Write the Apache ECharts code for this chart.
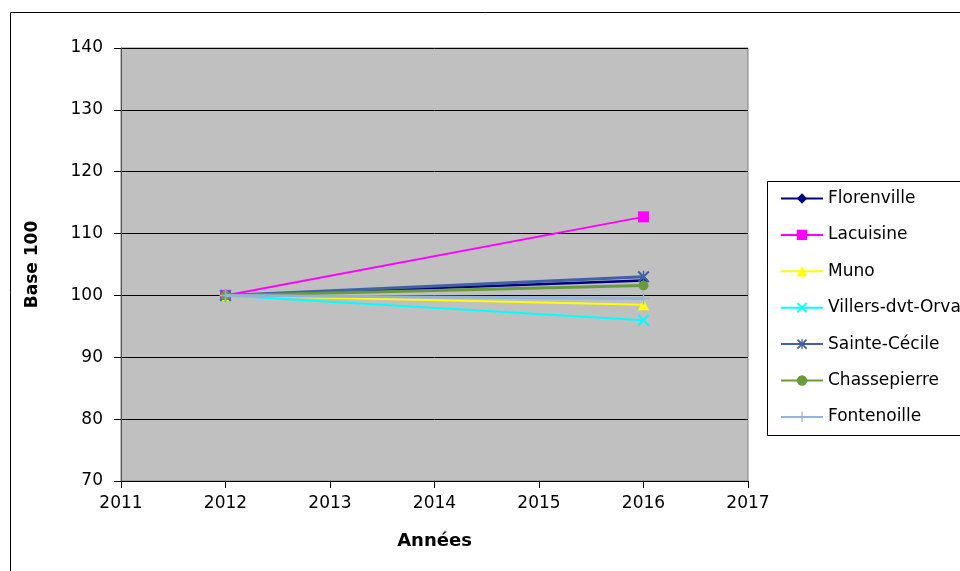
<!DOCTYPE html>
<html>
<head>
<meta charset="utf-8">
<script src="https://cdn.jsdelivr.net/npm/echarts@6/dist/echarts.min.js"></script>
<style>html,body{margin:0;padding:0;background:#fff}#c{width:960px;height:571px}</style>
</head>
<body>
<div id="c"></div>
<script>
const years = [2012, 2016];
const seriesNames = ['Florenville','Lacuisine','Muno','Villers-dvt-Orva','Sainte-Cécile','Chassepierre','Fontenoille'];
const florenville = [100, 102.4];
const lacuisine = [100, 112.7];
const muno = [100, 98.5];
const villers = [100, 96.0];
const sainteCecile = [100, 103.0];
const chassepierre = [100, 101.6];
const fontenoille = [100, 99.5];
const yTicks = [70, 80, 90, 100, 110, 120, 130, 140];
const xTicks = [2011, 2012, 2013, 2014, 2015, 2016, 2017];

const values = [florenville, lacuisine, muno, villers, sainteCecile, chassepierre, fontenoille];
const colors = ['#000080','#FF00FF','#FFFF00','#00FFFF','#4060A8','#699B3B','#95B3D7'];
const X_PATH = 'path://M0,1.2L1.2,0L10,8.8L8.8,10Z M8.8,0L10,1.2L1.2,10L0,8.8Z';
const STAR_PATH = 'path://M0,1.2L1.2,0L10,8.8L8.8,10Z M8.8,0L10,1.2L1.2,10L0,8.8Z M4.4,0L5.6,0L5.6,10L4.4,10Z';
const PLUS_PATH = 'path://M4.4,0L5.6,0L5.6,10L4.4,10Z M0,4.4L10,4.4L10,5.6L0,5.6Z';
const symbols = ['diamond','rect','triangle',X_PATH,STAR_PATH,'circle',PLUS_PATH];
const sizes = [10,11,11,12,12,10,12];
const widths = [2.5,2,2,2,3,3,3];

const chart = echarts.init(document.getElementById('c'));
const font = 'DejaVu Sans';
chart.setOption({
  animation: false,
  backgroundColor: '#fff',
  textStyle: {fontFamily: font},
  graphic: [
    {type:'rect', shape:{x:10.5, y:12.5, width:1000, height:700}, style:{fill:'none', stroke:'#000', lineWidth:1}, z:-10},
    {type:'rect', shape:{x:767.5, y:181.5, width:300, height:254}, style:{fill:'#fff', stroke:'#000', lineWidth:1}, z:-5}
  ],
  grid: {left:121, top:48, right:212, bottom:90, show:true, backgroundColor:'#C0C0C0', borderColor:'#808080', borderWidth:1},
  legend: {
    orient:'vertical', left:780, top:190, padding:0,
    itemWidth:42, itemHeight:13, itemGap:19.4,
    textStyle:{fontSize:17, color:'#000', fontFamily:font},
    data: seriesNames
  },
  xAxis: {
    type:'value', min:xTicks[0], max:xTicks[xTicks.length-1], interval:1,
    name:'Années', nameLocation:'middle', nameGap:51,
    nameTextStyle:{fontSize:18, fontWeight:'bold', color:'#000', fontFamily:font},
    axisLine:{lineStyle:{color:'#000', width:1}},
    axisTick:{show:true, length:7, lineStyle:{color:'#000'}},
    axisLabel:{fontSize:17, color:'#000', margin:14, formatter: v => String(v)},
    splitLine:{show:false}
  },
  yAxis: {
    type:'value', min:yTicks[0], max:yTicks[yTicks.length-1], interval:10,
    name:'Base 100', nameLocation:'middle', nameGap:80,
    nameTextStyle:{fontSize:17, fontWeight:'bold', color:'#000', fontFamily:font},
    axisLine:{show:true, lineStyle:{color:'#555', width:1}},
    axisTick:{show:true, length:7, lineStyle:{color:'#000'}},
    axisLabel:{fontSize:17, color:'#000', margin:18},
    splitLine:{show:true, lineStyle:{color:'#000', width:1}}
  },
  series: seriesNames.map((n, i) => ({
    name: n, type:'line',
    data: years.map((y, j) => [y, values[i][j]]),
    symbol: symbols[i], symbolSize: sizes[i], showSymbol:true,
    lineStyle:{color:colors[i], width:widths[i]},
    itemStyle:{color:colors[i], borderWidth:0},
    z: 2 + i
  }))
});
</script>
</body>
</html>
